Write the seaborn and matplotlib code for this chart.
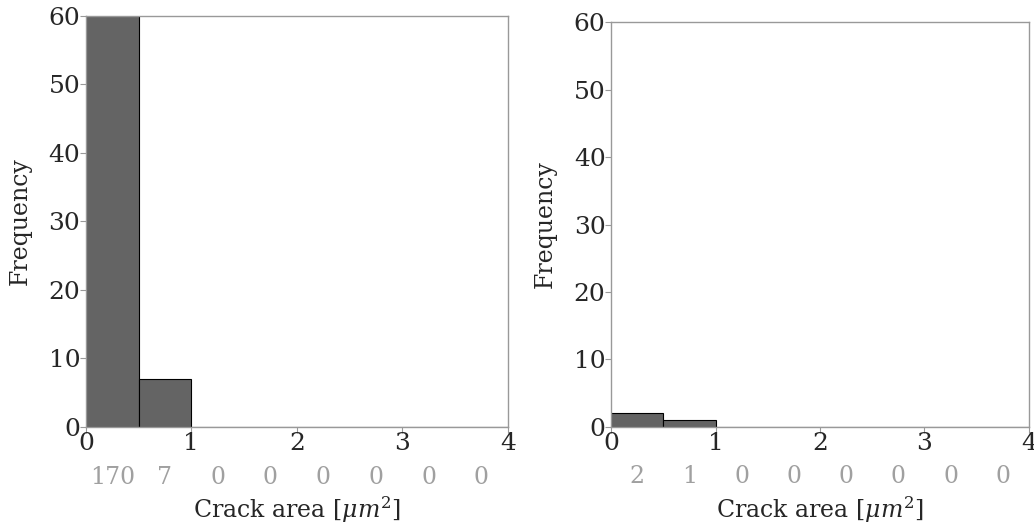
import numpy as np
import pandas as pd
import matplotlib
matplotlib.use("Agg")
import matplotlib.pyplot as plt
import seaborn as sns

bin_edges = [0, 0.5, 1.0, 1.5, 2.0, 2.5, 3.0, 3.5, 4.0]
counts_left = [170, 7, 0, 0, 0, 0, 0, 0]
counts_right = [2, 1, 0, 0, 0, 0, 0, 0]
x_ticks = [0, 1, 2, 3, 4]
y_ticks = [0, 10, 20, 30, 40, 50, 60]

sns.set_style("white")
plt.rcParams['font.family'] = ['DejaVu Serif']
plt.rcParams['mathtext.fontset'] = 'dejavuserif'

fig = plt.figure(figsize=(10.34, 5.27), dpi=100)
ax1 = fig.add_axes([0.083, 0.190, 0.408, 0.780])
ax2 = fig.add_axes([0.591, 0.190, 0.404, 0.768])

centers = [(bin_edges[i] + bin_edges[i + 1]) / 2 for i in range(len(bin_edges) - 1)]

for ax, counts in [(ax1, counts_left), (ax2, counts_right)]:
    df = pd.DataFrame({"x": centers, "w": counts})
    sns.histplot(data=df, x="x", weights="w", bins=bin_edges, ax=ax,
                 color="#5c5c5c", edgecolor="black", linewidth=0.8, alpha=0.95)
    ax.set_xlim(0, 4)
    ax.set_ylim(0, 60)
    ax.set_xticks(x_ticks)
    ax.set_yticks(y_ticks)
    ax.tick_params(axis="both", labelsize=18, length=4, color="#999999",
                   bottom=True, left=True, pad=0)
    for s in ax.spines.values():
        s.set_color("#999999")
        s.set_linewidth(1.0)
    ax.set_ylabel("Frequency", fontsize=17, labelpad=12)
    ax.set_xlabel(r"Crack area [$\mu m^2$]", fontsize=17, labelpad=28)
    for c, n in zip(centers, counts):
        ax.text(c, -0.095, str(n), transform=ax.get_xaxis_transform(),
                ha="center", va="top", fontsize=17, color="#a0a0a0")

fig.savefig("out.png", dpi=100)
